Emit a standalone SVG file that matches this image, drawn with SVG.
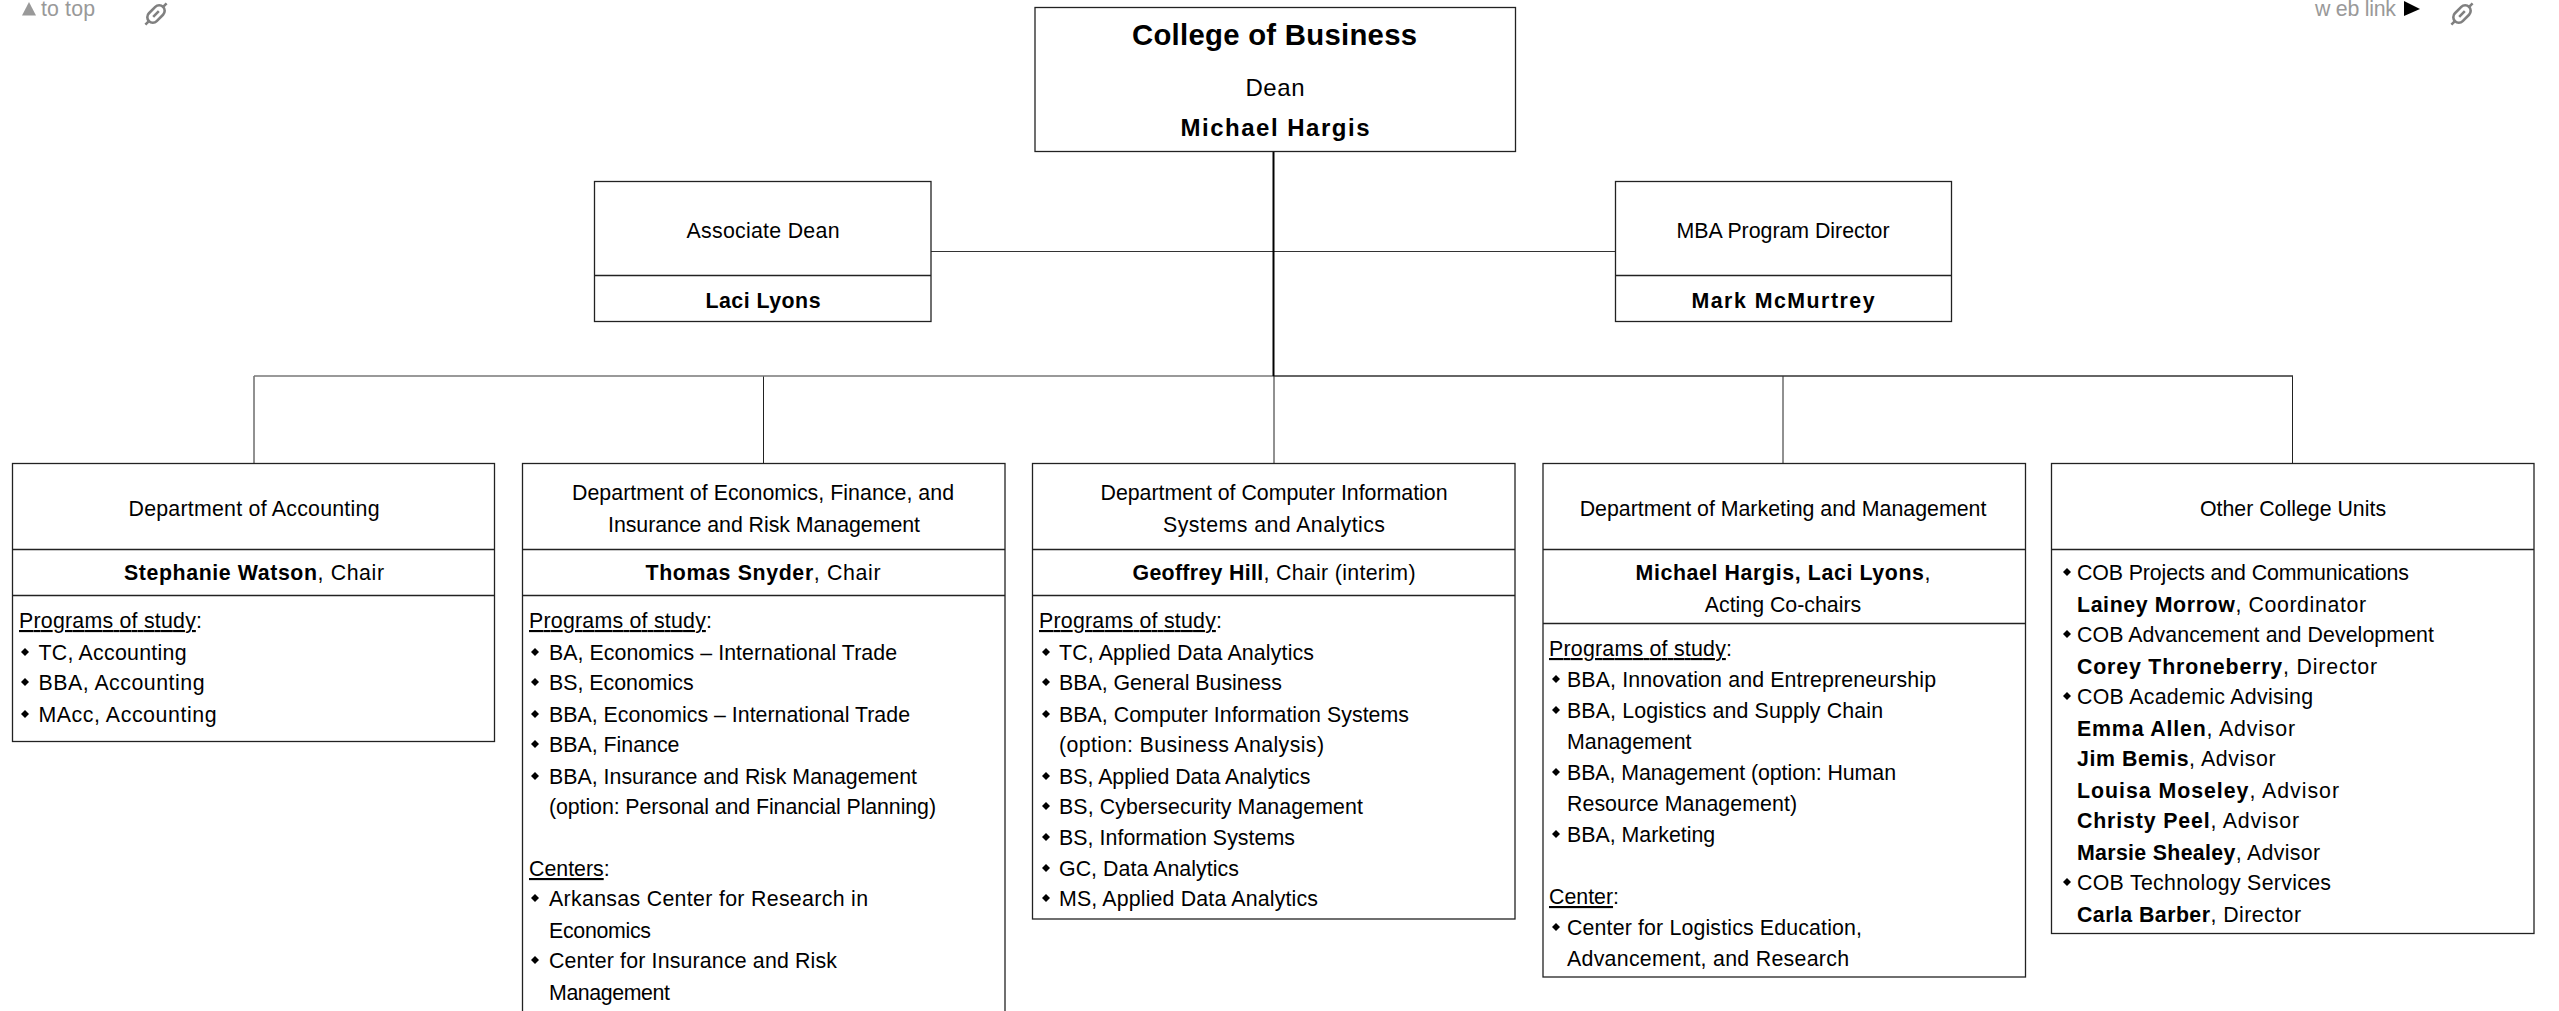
<svg xmlns="http://www.w3.org/2000/svg" width="2559" height="1011" viewBox="0 0 2559 1011">
<style>
text{font-family:"Liberation Sans",Arial,sans-serif;font-size:21.33px;fill:#000}
.c{text-anchor:middle}
.b{font-weight:bold}
.n{font-weight:normal}
.u{text-decoration:underline}
.box{fill:#fff;stroke:#222;stroke-width:1.3}
.div{fill:none;stroke:#222;stroke-width:1.3}
.stem{fill:none;stroke:#222;stroke-width:1}
.g{fill:#999}
text.g{fill:#999}
.ic{fill:none;stroke:#808080;stroke-width:2.6}
</style>
<defs>
<polygon id="d" points="0,-4 4,0 0,4 -4,0" fill="#000"/>
<g id="link" transform="rotate(-45)"><rect class="ic" x="-10" y="-5.500" width="20" height="11" rx="5.500"/><path class="ic" d="M-15,0H-9M9,0H15M-4,0H4"/></g>
</defs>
<g id="connectors">
<path class="stem" d="M254,463V376M763.500,463V376M1274,463V376M1783,463V376M2292.500,463V376"/>
<path fill="none" stroke="#777" stroke-width="1.500" d="M254,376H1273"/>
<path fill="none" stroke="#333" stroke-width="1.500" d="M1273,376H2293"/>
<path fill="none" stroke="#333" stroke-width="1.200" d="M931,251.500H1615"/>
<path fill="none" stroke="#000" stroke-width="2" d="M1273.500,151V376"/>
</g>
<g id="top-links">
<polygon class="g" points="22,15.500 29,2 36,15.500"/>
<text class="g" x="41" y="16" textLength="54">to top</text>
<use href="#link" transform="translate(156 14)"/>
<text class="g" x="2315" y="16" textLength="81">w eb link</text>
<polygon points="2404,1 2420,9 2404,16"/>
<use href="#link" transform="translate(2462 14)"/>
</g>
<g id="dean">
<rect class="box" x="1035" y="7.500" width="480.500" height="144"/>
<text class="c b" x="1274.500" y="45" style="font-size:29.300px" textLength="285">College of Business</text>
<text class="c" x="1275" y="96" style="font-size:24px" textLength="59">Dean</text>
<text class="c b" x="1275" y="136" style="font-size:24px" textLength="189">Michael Hargis</text>
</g>
<g id="associate-dean">
<rect class="box" x="594.500" y="181.500" width="336.500" height="140"/>
<path class="div" d="M594.500,275.500H931"/>
<text class="c" x="763" y="238" textLength="153">Associate Dean</text>
<text class="c b" x="763" y="308" textLength="115">Laci Lyons</text>
</g>
<g id="mba-director">
<rect class="box" x="1615.500" y="181.500" width="336" height="140"/>
<path class="div" d="M1615.500,275.500H1951.500"/>
<text class="c" x="1783" y="238" textLength="213">MBA Program Director</text>
<text class="c b" x="1783" y="308" textLength="183">Mark McMurtrey</text>
</g>
<g id="dept-accounting">
<rect class="box" x="12.500" y="463.500" width="482" height="278"/>
<path class="div" d="M12.500,549.500H494.500M12.500,595.500H494.500"/>
<text class="c" x="254" y="516" textLength="251">Department of Accounting</text>
<text class="c" x="254" y="580" textLength="260"><tspan class="b">Stephanie Watson</tspan>, Chair</text>
<text x="19" y="628" textLength="183"><tspan class="u">Programs of study</tspan>:</text>
<use href="#d" x="25" y="652"/><text x="38.500" y="660" textLength="148">TC, Accounting</text>
<use href="#d" x="25" y="682"/><text x="38.500" y="690" textLength="166">BBA, Accounting</text>
<use href="#d" x="25" y="714"/><text x="38.500" y="722" textLength="178">MAcc, Accounting</text>
</g>
<g id="dept-economics">
<rect class="box" x="522.500" y="463.500" width="482.500" height="600"/>
<path class="div" d="M522.500,549.500H1005M522.500,595.500H1005"/>
<text class="c" x="763" y="500" textLength="382">Department of Economics, Finance, and</text>
<text class="c" x="764" y="532" textLength="312">Insurance and Risk Management</text>
<text class="c" x="763" y="580" textLength="235"><tspan class="b">Thomas Snyder</tspan>, Chair</text>
<text x="529" y="628" textLength="183"><tspan class="u">Programs of study</tspan>:</text>
<use href="#d" x="535" y="652"/><text x="549" y="660" textLength="348">BA, Economics – International Trade</text>
<use href="#d" x="535" y="682"/><text x="549" y="690">BS, Economics</text>
<use href="#d" x="535" y="714"/><text x="549" y="722" textLength="361">BBA, Economics – International Trade</text>
<use href="#d" x="535" y="744"/><text x="549" y="752">BBA, Finance</text>
<use href="#d" x="535" y="776"/><text x="549" y="784" textLength="368">BBA, Insurance and Risk Management</text>
<text x="549" y="814" textLength="387">(option: Personal and Financial Planning)</text>
<text x="529" y="876"><tspan class="u">Centers</tspan>:</text>
<use href="#d" x="535" y="898"/><text x="549" y="906" textLength="319">Arkansas Center for Research in</text>
<text x="549" y="938" textLength="102">Economics</text>
<use href="#d" x="535" y="960"/><text x="549" y="968" textLength="288">Center for Insurance and Risk</text>
<text x="549" y="1000" textLength="121">Management</text>
</g>
<g id="dept-cis">
<rect class="box" x="1032.500" y="463.500" width="482.500" height="455.500"/>
<path class="div" d="M1032.500,549.500H1515M1032.500,595.500H1515"/>
<text class="c" x="1274" y="500" textLength="347">Department of Computer Information</text>
<text class="c" x="1274" y="532" textLength="222">Systems and Analytics</text>
<text class="c" x="1274" y="580" textLength="283"><tspan class="b">Geoffrey Hill</tspan>, Chair (interim)</text>
<text x="1039" y="628" textLength="183"><tspan class="u">Programs of study</tspan>:</text>
<use href="#d" x="1046" y="652"/><text x="1059" y="660" textLength="255">TC, Applied Data Analytics</text>
<use href="#d" x="1046" y="682"/><text x="1059" y="690">BBA, General Business</text>
<use href="#d" x="1046" y="714"/><text x="1059" y="722" textLength="350">BBA, Computer Information Systems</text>
<text x="1059" y="752" textLength="265">(option: Business Analysis)</text>
<use href="#d" x="1046" y="776"/><text x="1059" y="784">BS, Applied Data Analytics</text>
<use href="#d" x="1046" y="806"/><text x="1059" y="814" textLength="304">BS, Cybersecurity Management</text>
<use href="#d" x="1046" y="837"/><text x="1059" y="845" textLength="236">BS, Information Systems</text>
<use href="#d" x="1046" y="868"/><text x="1059" y="876" textLength="180">GC, Data Analytics</text>
<use href="#d" x="1046" y="898"/><text x="1059" y="906" textLength="259">MS, Applied Data Analytics</text>
</g>
<g id="dept-marketing">
<rect class="box" x="1543" y="463.500" width="482.500" height="513.500"/>
<path class="div" d="M1543,549.500H2025.500M1543,623.500H2025.500"/>
<text class="c" x="1783" y="516">Department of Marketing and Management</text>
<text class="c b" x="1783" y="580" textLength="295">Michael Hargis, Laci Lyons<tspan class="n">,</tspan></text>
<text class="c" x="1783" y="612">Acting Co-chairs</text>
<text x="1549" y="656" textLength="183"><tspan class="u">Programs of study</tspan>:</text>
<use href="#d" x="1556" y="679"/><text x="1567" y="687" textLength="369">BBA, Innovation and Entrepreneurship</text>
<use href="#d" x="1556" y="710"/><text x="1567" y="718" textLength="316">BBA, Logistics and Supply Chain</text>
<text x="1567" y="749">Management</text>
<use href="#d" x="1556" y="772"/><text x="1567" y="780" textLength="329">BBA, Management (option: Human</text>
<text x="1567" y="811" textLength="230">Resource Management)</text>
<use href="#d" x="1556" y="834"/><text x="1567" y="842">BBA, Marketing</text>
<text x="1549" y="904"><tspan class="u">Center</tspan>:</text>
<use href="#d" x="1556" y="927"/><text x="1567" y="935" textLength="295">Center for Logistics Education,</text>
<text x="1567" y="966" textLength="282">Advancement, and Research</text>
</g>
<g id="other-units">
<rect class="box" x="2051.500" y="463.500" width="482.500" height="470"/>
<path class="div" d="M2051.500,549.500H2534"/>
<text class="c" x="2293" y="516">Other College Units</text>
<use href="#d" x="2067" y="572"/><text x="2077" y="580" textLength="332">COB Projects and Communications</text>
<text x="2077" y="612" textLength="289"><tspan class="b">Lainey Morrow</tspan>, Coordinator</text>
<use href="#d" x="2067" y="634"/><text x="2077" y="642" textLength="357">COB Advancement and Development</text>
<text x="2077" y="674" textLength="300"><tspan class="b">Corey Throneberry</tspan>, Director</text>
<use href="#d" x="2067" y="696"/><text x="2077" y="704" textLength="236">COB Academic Advising</text>
<text x="2077" y="736" textLength="218"><tspan class="b">Emma Allen</tspan>, Advisor</text>
<text x="2077" y="766" letter-spacing="0.600"><tspan class="b">Jim Bemis</tspan>, Advisor</text>
<text x="2077" y="798" textLength="262"><tspan class="b">Louisa Moseley</tspan>, Advisor</text>
<text x="2077" y="828" textLength="222"><tspan class="b">Christy Peel</tspan>, Advisor</text>
<text x="2077" y="860" textLength="243"><tspan class="b">Marsie Shealey</tspan>, Advisor</text>
<use href="#d" x="2067" y="882"/><text x="2077" y="890" textLength="254">COB Technology Services</text>
<text x="2077" y="922" textLength="224"><tspan class="b">Carla Barber</tspan>, Director</text>
</g>
</svg>
